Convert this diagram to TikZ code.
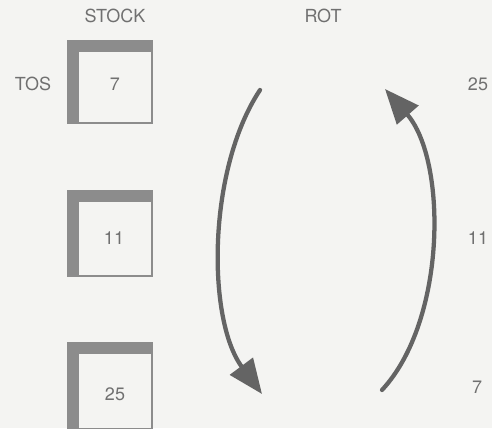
\documentclass[tikz,border=0pt]{standalone}
\usepackage{fontspec}
\setmainfont{TeX Gyre Heros}
\usetikzlibrary{arrows.meta}
\definecolor{paper}{RGB}{244,244,242}
\definecolor{ink}{RGB}{100,100,100}
\definecolor{boxgray}{RGB}{140,140,140}
\definecolor{txt}{RGB}{112,112,112}
\tikzset{
  lbl/.style={text=txt,font=\fontsize{13.5}{16}\selectfont,inner sep=0pt},
  rotarrow/.style={draw=ink,line width=3.2pt,line cap=round,-{Triangle[length=26pt,width=21pt]}},
}
\newcommand{\stackbox}[5]{% name, x0, y0, x1, y1
  \fill[boxgray] (#2,#3) rectangle (#4,#5);
  \fill[paper] (#2+12,#3+12) rectangle (#4-2,#5-2);
}
\begin{document}
\begin{tikzpicture}[x=0.75pt,y=-0.75pt]
\useasboundingbox (0,0) rectangle (492,428);
\fill[paper] (0,0) rectangle (492,428);
\stackbox{b1}{67}{40}{153}{124}
\stackbox{b2}{67}{190}{153}{277}
\stackbox{b3}{67}{342}{153}{430}
\node[lbl] (stock) at (115,16) {STOCK};
\node[lbl] (rot) at (323,16) {ROT};
\node[lbl] (tos) at (33,84) {TOS};
\node[lbl] (s1) at (115,84) {7};
\node[lbl] (s2) at (114,238) {11};
\node[lbl] (s3) at (115,394) {25};
\node[lbl] (r1) at (478,84) {25};
\node[lbl] (r2) at (478,238) {11};
\node[lbl] (r3) at (477,387) {7};
\coordinate (la) at (260,90);
\coordinate (lb) at (262,394);
\coordinate (ra) at (382,390);
\coordinate (rb) at (385,89);
\draw[rotarrow] (la) .. controls (207,170) and (207,320) .. (lb);
\draw[rotarrow] (ra) .. controls (447,320) and (447,160) .. (rb);
\end{tikzpicture}
\end{document}
